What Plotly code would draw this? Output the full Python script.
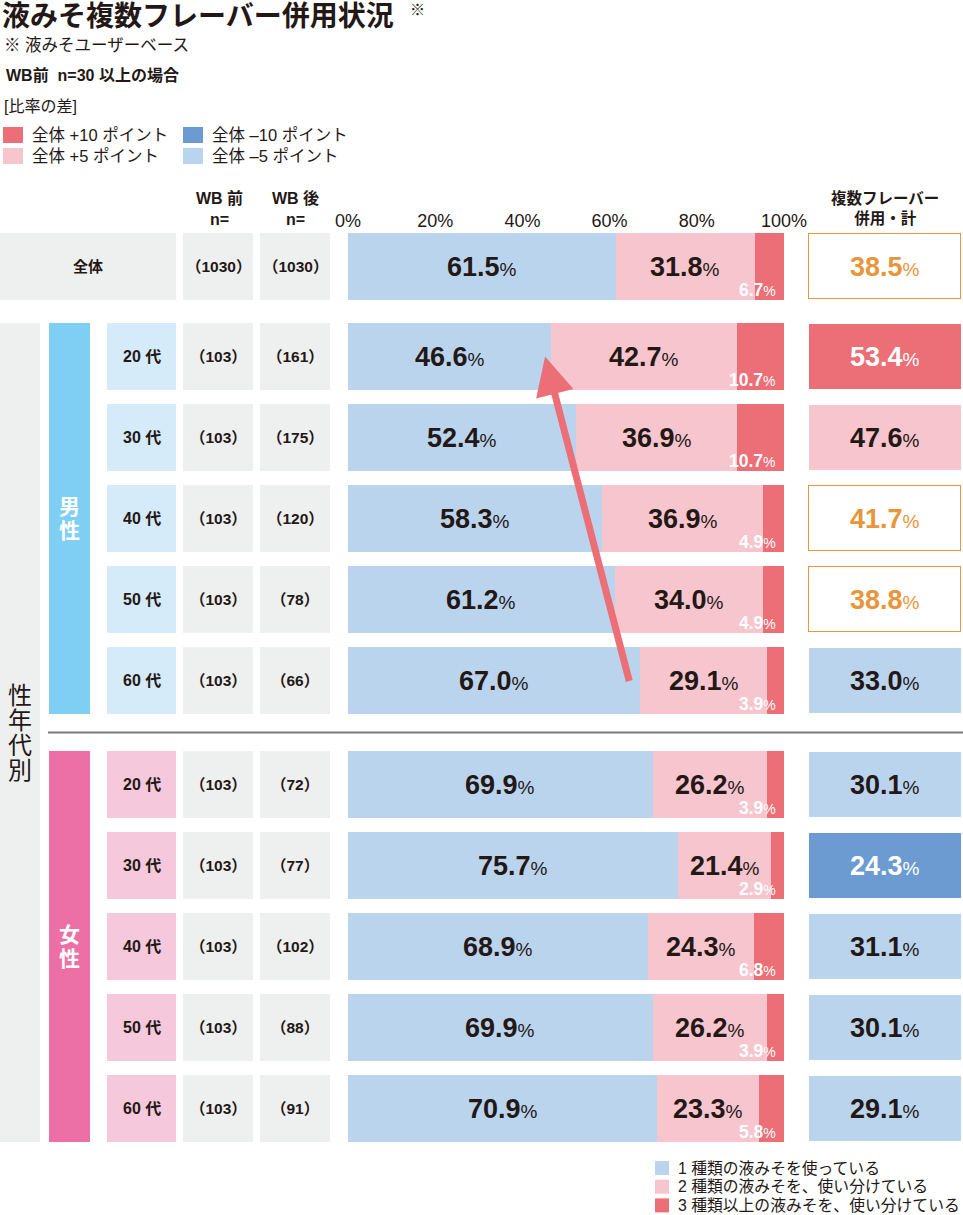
import plotly.graph_objects as go

# ---------------- data ----------------
row_groups = ['全体', '男性', '男性', '男性', '男性', '男性', '女性', '女性', '女性', '女性', '女性']
row_labels = ['全体', '20 代', '30 代', '40 代', '50 代', '60 代', '20 代', '30 代', '40 代', '50 代', '60 代']
n_before = [1030, 103, 103, 103, 103, 103, 103, 103, 103, 103, 103]
n_after = [1030, 161, 175, 120, 78, 66, 72, 77, 102, 88, 91]
share_one = [61.5, 46.6, 52.4, 58.3, 61.2, 67.0, 69.9, 75.7, 68.9, 69.9, 70.9]
share_two = [31.8, 42.7, 36.9, 36.9, 34.0, 29.1, 26.2, 21.4, 24.3, 26.2, 23.3]
share_three = [6.7, 10.7, 10.7, 4.9, 4.9, 3.9, 3.9, 2.9, 6.8, 3.9, 5.8]
multi_total = [38.5, 53.4, 47.6, 41.7, 38.8, 33.0, 30.1, 24.3, 31.1, 30.1, 29.1]
axis_ticks = [0, 20, 40, 60, 80, 100]
axis_tick_text = ['0%', '20%', '40%', '60%', '80%', '100%']
series_names = ['1 種類の液みそを使っている', '2 種類の液みそを、使い分けている', '3 種類以上の液みそを、使い分けている']
diff_legend = ['全体 +10 ポイント', '全体 +5 ポイント', '全体 –10 ポイント', '全体 –5 ポイント']

# ---------------- style ----------------
W, H = 963, 1215
FONT = "Liberation Sans, 'Noto Sans CJK JP', sans-serif"
DARK = '#231815'
C_BLUE_L = '#BAD4EE'
C_PINK_L = '#F7C5CD'
C_RED = '#EC6E76'
C_BLUE_D = '#6B9BD0'
C_GREY = '#EEEFEF'
C_MALE = '#7FCEF4'
C_MALE_L = '#D5EBF9'
C_FEM = '#EC6FA5'
C_FEM_L = '#F5C8DB'
C_ORANGE = '#E8953B'

ROW_H = 67
STEP = 81
Y_ALL = 266.5
Y_MALE0 = 356.5
Y_FEM0 = 784.5


def P(x):
    return x / W


# row centre positions (layout, in pixel-like y units)
centers = []
mi = fi = 0
for g in row_groups:
    if g == '全体':
        centers.append(Y_ALL)
    elif g == '男性':
        centers.append(Y_MALE0 + mi * STEP); mi += 1
    else:
        centers.append(Y_FEM0 + fi * STEP); fi += 1

fig = go.Figure()
seg_colors = [C_BLUE_L, C_PINK_L, C_RED]
for vals, name, col in zip([share_one, share_two, share_three], series_names, seg_colors):
    fig.add_trace(go.Bar(x=vals, y=centers, orientation='h', width=ROW_H, name=name,
                         marker=dict(color=col, line=dict(width=0)),
                         xaxis='x', yaxis='y', showlegend=False, hoverinfo='skip'))

# multi-flavour total column
base = multi_total[0]
tot_fill, tot_line, tot_lw, tot_txt = [], [], [], []
for v in multi_total:
    d = v - base
    if d >= 10:
        f, t = C_RED, 'white'
    elif d >= 5:
        f, t = C_PINK_L, DARK
    elif d <= -10:
        f, t = C_BLUE_D, 'white'
    elif d <= -5:
        f, t = C_BLUE_L, DARK
    else:
        f, t = 'white', C_ORANGE
    tot_fill.append(f)
    tot_txt.append(t)
    tot_line.append(C_ORANGE if f == 'white' else f)
    tot_lw.append(1.5 if f == 'white' else 0)
fig.add_trace(go.Bar(x=[1] * len(multi_total), y=centers, orientation='h', width=ROW_H - 1.5,
                     marker=dict(color=tot_fill, line=dict(color=tot_line, width=tot_lw)),
                     xaxis='x2', yaxis='y', showlegend=False, hoverinfo='skip'))

shapes = []
annotations = []


def rect(x0, x1, y0, y1, color, yref='y'):
    shapes.append(dict(type='rect', xref='paper', yref=yref, x0=P(x0), x1=P(x1), y0=y0, y1=y1,
                       fillcolor=color, line=dict(width=0), layer='below'))


def ann(text, x, y, size=14, color=DARK, xanchor='center', yanchor='middle', xref='paper', **kw):
    annotations.append(dict(text=text, x=x, y=y, xref=xref, yref='y', showarrow=False,
                            xanchor=xanchor, yanchor=yanchor,
                            font=dict(size=size, color=color, family=FONT), **kw))


def vtext(chars, xpx, yc, size, spacing, color=DARK, bold=False):
    n = len(chars)
    for k, ch in enumerate(chars):
        y = yc + (k - (n - 1) / 2) * spacing
        ann(f'<b>{ch}</b>' if bold else ch, P(xpx), y, size=size, color=color)


def pct(v, small, bold=True):
    num = f'{v:.1f}'
    if bold:
        num = f'<b>{num}</b>'
    return f"{num}<span style='font-size:{small}px'>%</span>"


# table cells
male_idx = [i for i, g in enumerate(row_groups) if g == '男性']
fem_idx = [i for i, g in enumerate(row_groups) if g == '女性']
first_top = centers[male_idx[0]] - ROW_H / 2
last_bot = centers[fem_idx[-1]] + ROW_H / 2
rect(0, 40, first_top, last_bot, C_GREY)
rect(49, 90, centers[male_idx[0]] - ROW_H / 2, centers[male_idx[-1]] + ROW_H / 2, C_MALE)
rect(49, 90, centers[fem_idx[0]] - ROW_H / 2, centers[fem_idx[-1]] + ROW_H / 2, C_FEM)
sep_y = (centers[male_idx[-1]] + ROW_H / 2 + centers[fem_idx[0]] - ROW_H / 2) / 2
shapes.append(dict(type='line', xref='paper', yref='y', x0=P(48), x1=1, y0=sep_y, y1=sep_y,
                   line=dict(color='#7A7A7A', width=2)))

for i, (g, lab, c) in enumerate(zip(row_groups, row_labels, centers)):
    y0, y1 = c - ROW_H / 2, c + ROW_H / 2
    if g == '全体':
        rect(0, 176, y0, y1, C_GREY)
        ann('<b>' + lab + '</b>', P(88), c, size=15)
    else:
        rect(107, 176, y0, y1, C_MALE_L if g == '男性' else C_FEM_L)
        ann('<b>' + lab + '</b>', P(141.5), c, size=16)
    rect(183, 253, y0, y1, C_GREY)
    rect(260, 330, y0, y1, C_GREY)
    ann(f'<b>（{n_before[i]}）</b>', P(218), c, size=15.5)
    ann(f'<b>（{n_after[i]}）</b>', P(295), c, size=15.5)
    # bar labels
    a, b, t = share_one[i], share_two[i], share_three[i]
    ann(pct(a, 19), a / 2, c, size=27, xref='x')
    ann(pct(b, 19), a + b / 2, c, size=27, xref='x')
    ann(pct(t, 14), 100, c + ROW_H / 2 - 10, size=17.5, color='white', xref='x', xanchor='right',
        xshift=-6)
    # total column label
    ann(pct(multi_total[i], 19), 0.5, c, size=27, color=tot_txt[i], xref='x2')

# group labels
vtext('男性', 69.5, (centers[male_idx[0]] + centers[male_idx[-1]]) / 2, 21, 24, color='white', bold=True)
vtext('女性', 69.5, (centers[fem_idx[0]] + centers[fem_idx[-1]]) / 2, 21, 24, color='white', bold=True)
vtext('性年代別', 20, (first_top + last_bot) / 2, 24, 25)

# column headers
ann('<b>WB 前<br>n=</b>', P(219), 208, size=16)
ann('<b>WB 後<br>n=</b>', P(295), 208, size=16)
ann('<b>複数フレーバー<br>併用・計</b>', P(885), 208, size=15.5)

# titles
ann('<b>液みそ複数フレーバー併用状況</b>', 0, 16, size=28, xanchor='left')
ann('※', P(408), 9, size=15, xanchor='left')
ann('※ 液みそユーザーベース', P(2), 45, size=16.5, xanchor='left')
ann('<b>WB前  n=30 以上の場合</b>', P(4), 75, size=16, xanchor='left')
ann('[比率の差]', P(2), 106, size=16, xanchor='left')

# difference legend
diff_cols = [C_RED, C_PINK_L, C_BLUE_D, C_BLUE_L]
diff_pos = [(3, 135), (3, 156), (183, 135), (183, 156)]
for txt, col, (lx, ly) in zip(diff_legend, diff_cols, diff_pos):
    rect(lx, lx + 20, ly - 8, ly + 8, col)
    ann(txt, P(lx + 27), ly, size=16.5, xanchor='left')

# series legend
for k, (txt, col) in enumerate(zip(series_names, seg_colors)):
    ly = 1168 + k * 18.7
    rect(655, 669, ly - 7, ly + 7, col)
    ann(txt, P(676), ly, size=15.8, xanchor='left')

# arrow (from 60代 male 1-type end to 20代 male 1-type end)
i_from, i_to = male_idx[-1], male_idx[0]
annotations.append(dict(text='', x=share_one[i_to] - 1.4, y=centers[i_to], xref='x', yref='y',
                        ax=share_one[i_from] - 2.4, ay=centers[i_from] + 2, axref='x', ayref='y',
                        showarrow=True, arrowhead=2, arrowsize=1.1, arrowwidth=7,
                        arrowcolor=C_RED, standoff=0))

fig.update_layout(
    width=W, height=H, autosize=False, margin=dict(l=0, r=0, t=0, b=0, pad=0, autoexpand=False),
    paper_bgcolor='white', plot_bgcolor='rgba(0,0,0,0)',
    barmode='stack', bargap=0,
    font=dict(family=FONT, color=DARK),
    xaxis=dict(domain=[P(348), P(784)], range=[0, 100], side='top', anchor='free',
               position=1 - 231 / H, tickvals=axis_ticks, ticktext=axis_tick_text,
               showgrid=False, zeroline=False, showline=False, ticks='', automargin=False,
               tickfont=dict(size=18, color=DARK, family=FONT), fixedrange=True),
    xaxis2=dict(domain=[P(808), P(962)], range=[-0.005, 1.005], anchor='y', visible=False,
                showgrid=False, zeroline=False, automargin=False),
    yaxis=dict(domain=[0, 1], range=[H, 0], visible=False, showgrid=False, zeroline=False,
               automargin=False),
    shapes=shapes, annotations=annotations,
)

page_fix = ("document.documentElement.style.margin='0';document.documentElement.style.padding='0';"
            "document.documentElement.style.overflow='hidden';"
            "document.body.style.margin='0';document.body.style.padding='0';"
            "document.body.style.overflow='hidden';")

fig.write_html('out.html', config={'responsive': False, 'displayModeBar': False},
               post_script=page_fix)
